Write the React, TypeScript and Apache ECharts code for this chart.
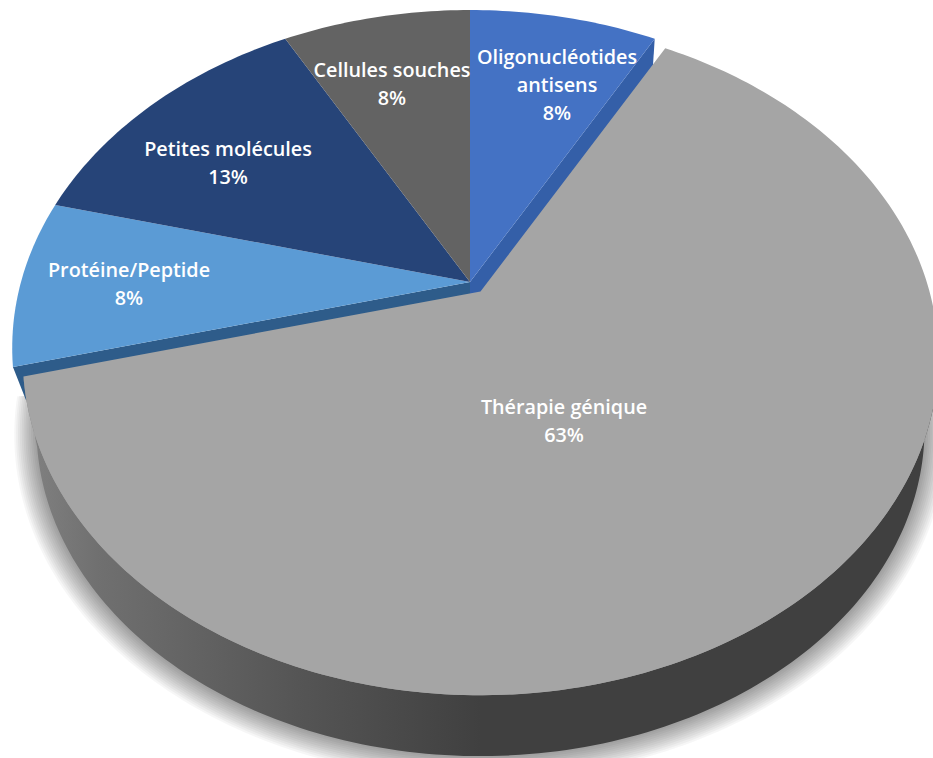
import React, { useEffect, useRef } from "react";
import * as echarts from "echarts";

const categories = [
  "Oligonucléotides\nantisens",
  "Thérapie génique",
  "Protéine/Peptide",
  "Petites molécules",
  "Cellules souches",
];
const percentages = [8, 63, 8, 13, 8];
const topColors = ["#4472C4", "#A5A5A5", "#5B9BD5", "#264478", "#636363"];
const wallColors = ["#345FA8", "", "#2E5C8A", "", ""];
const labelCentres = [
  [557, 84],
  [564, 420],
  [129, 283],
  [228, 162],
  [392, 83],
];
// how far the outer corner of a visible radial wall drops below the top face
const wallDrops = [
  [-2, 30],
  [0, 0],
  [13, 33],
  [0, 0],
  [0, 0],
];
const explodedIndex = 1;

const WIDTH = 933;
const HEIGHT = 758;
const CX = 470;
const CY = 282;
const RX = 449;
const RY = 325;
const PERSPECTIVE = 0.195;
const EXPLODE_X = 10.5;
const EXPLODE_Y = 9.5;
const DEPTH = 73;
const BOTTOM_SCALE = 0.97;
const WALL_START = 100;
const SHADOW_LAYERS = 12;
const SHADOW_STEP = 0.004;

const total = percentages.reduce((a, b) => a + b, 0);
const startAngles = percentages.map(
  (_, i) => (percentages.slice(0, i).reduce((a, b) => a + b, 0) / total) * 360
);

function project(deg: number, radius: number, ox: number, oy: number, bottom: boolean) {
  const t = (deg * Math.PI) / 180;
  const c = Math.cos(t) * radius;
  const s = Math.sin(t) * radius;
  const w = 1 + PERSPECTIVE * c;
  const k = bottom ? BOTTOM_SCALE : 1;
  return [CX + ox + (k * RX * s) / w, CY + oy + (bottom ? DEPTH : 0) - (k * RY * c) / w];
}

function arc(from: number, to: number, ox: number, oy: number, bottom: boolean, radius = 1) {
  const steps = Math.max(2, Math.ceil(Math.abs(to - from)));
  const pts: number[][] = [];
  for (let i = 0; i <= steps; i++) {
    pts.push(project(from + ((to - from) * i) / steps, radius, ox, oy, bottom));
  }
  return pts;
}

function renderSlice(params: any, api: any) {
  const i = params.dataIndex;
  const from = startAngles[i];
  const to = from + (api.value(0) / total) * 360;
  const exploded = i === explodedIndex;
  const ox = exploded ? EXPLODE_X : 0;
  const oy = exploded ? EXPLODE_Y : 0;
  const children: any[] = [];

  if (exploded) {
    const wallFrom = Math.max(from, WALL_START);
    for (let j = 1; j <= SHADOW_LAYERS; j++) {
      children.push({
        type: "polygon",
        z2: 1,
        shape: { points: arc(wallFrom - 5, to + 9, ox, oy, true, 1 + j * SHADOW_STEP) },
        style: { fill: "rgba(0,0,0,0.035)" },
      });
    }
    children.push({
      type: "polygon",
      z2: 20,
      shape: {
        points: [...arc(wallFrom, to, ox, oy, false), ...arc(to, wallFrom, ox, oy, true)],
      },
      style: {
        fill: new echarts.graphic.LinearGradient(0, 0, 1, 0, [
          { offset: 0, color: "#828282" },
          { offset: 0.08, color: "#707070" },
          { offset: 0.3, color: "#555555" },
          { offset: 0.5, color: "#404040" },
          { offset: 1, color: "#404040" },
        ]),
      },
    });
  } else if (wallColors[i]) {
    const edge = i === 0 ? to : from;
    const outerTop = project(edge, 1, 0, 0, false);
    const outerBottom = [outerTop[0] + wallDrops[i][0], outerTop[1] + wallDrops[i][1]];
    const apexBottom = [CX, CY + DEPTH];
    children.push({
      type: "polygon",
      z2: 5,
      shape: { points: [[CX, CY], outerTop, outerBottom, apexBottom] },
      style: { fill: wallColors[i] },
    });
  }

  const apex = project(from, 0, ox, oy, false);
  children.push({
    type: "polygon",
    z2: exploded ? 30 : 10,
    shape: { points: [apex, ...arc(from, to, ox, oy, false)] },
    style: { fill: topColors[i] },
  });

  children.push({
    type: "text",
    z2: 50,
    x: labelCentres[i][0],
    y: labelCentres[i][1],
    style: {
      text: `${categories[i]}\n${api.value(0)}%`,
      fill: "#ffffff",
      font: '600 19.8px "Open Sans"',
      lineHeight: 28,
      align: "center",
      verticalAlign: "middle",
    },
  });

  return { type: "group", children };
}

export default function App() {
  const ref = useRef<HTMLDivElement>(null);
  useEffect(() => {
    const chart = echarts.init(ref.current!, undefined, { renderer: "svg" });
    chart.setOption({
      animation: false,
      backgroundColor: "#ffffff",
      series: [
        {
          type: "custom",
          coordinateSystem: "none",
          silent: true,
          renderItem: renderSlice,
          data: categories.map((name, i) => ({ name, value: [percentages[i]] })),
        },
      ],
    });
    return () => chart.dispose();
  }, []);
  return (
    <div
      ref={ref}
      style={{ position: "fixed", left: 0, top: 0, width: WIDTH, height: HEIGHT, overflow: "hidden" }}
    />
  );
}
